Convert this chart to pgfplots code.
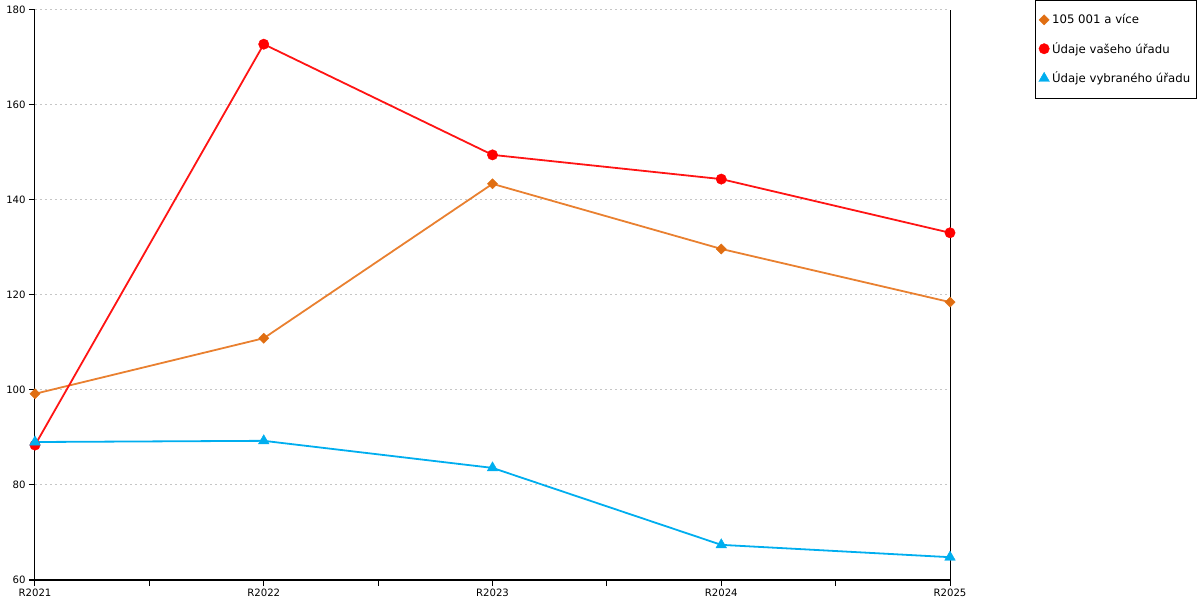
\documentclass[border=0pt]{standalone}
\usepackage{pgfplots}
\pgfplotsset{compat=1.18}
\usepackage{fontspec}
\setmainfont{DejaVu Sans}
\definecolor{orangeL}{RGB}{233,128,48}
\definecolor{orangeM}{RGB}{224,110,18}
\definecolor{redL}{RGB}{255,20,20}
\definecolor{blueL}{RGB}{0,174,239}
\begin{document}
\begin{tikzpicture}[x=1pt,y=1pt]
\path[use as bounding box] (0,0) rectangle (900,450);
\begin{axis}[
  at={(26.25pt,15pt)}, anchor=south west,
  scale only axis, width=686.25pt, height=427.5pt,
  xmin=0, xmax=4, ymin=60, ymax=180,
  xtick={0,1,2,3,4},
  xticklabels={R2021,R2022,R2023,R2024,R2025},
  minor xtick={0.5,1.5,2.5,3.5},
  ytick={60,80,100,120,140,160,180},
  axis x line*=bottom, axis y line*=left,
  axis line style={line width=0.75pt, black, -},
  xtick pos=bottom, ytick pos=left,
  tick align=outside,
  major tick length=4.5pt, minor tick length=4.5pt,
  every tick/.style={black, line width=0.75pt},
  minor tick style={black, line width=0.75pt},
  ymajorgrids,
  major grid style={gray!45, line width=0.75pt, dash pattern=on 1.5pt off 2.25pt},
  tick label style={font=\fontsize{7.6}{9}\selectfont},
  /pgf/number format/assume math mode=true,
  xticklabel style={yshift=1pt},
  yticklabel style={xshift=1pt},
  clip=false,
  legend style={
    at={(1.0929,1.0175)}, anchor=north west,
    draw=black, line width=0.75pt,
    font=\fontsize{8.8}{10}\selectfont,
    row sep=8.6pt,
    inner xsep=2.5pt, inner ysep=8.2pt,
    every odd column/.append style={inner xsep=2.8pt},
    every even column/.append style={text width=105pt},
    cells={align=left},
  },
  legend cell align=left,
  legend image code/.code={\draw[#1,only marks] plot coordinates {(0pt,0pt)};},
]
\draw[black, line width=0.75pt] (rel axis cs:1,0) -- (rel axis cs:1,1);
\addplot[orangeL, line width=1.35pt, mark=square*, mark size=2.7pt, mark options={rotate=45, fill=orangeM, draw=orangeM, line width=0.3pt}]
  coordinates {(0,99.2) (1,110.9) (2,143.4) (3,129.7) (4,118.5)};
\addlegendentry{105 001 a více}
\addplot[redL, line width=1.35pt, mark=*, mark size=3.9pt, mark options={fill=red, draw=red, line width=0.3pt}]
  coordinates {(0,88.4) (1,172.8) (2,149.5) (3,144.4) (4,133.1)};
\addlegendentry{Údaje vašeho úřadu}
\addplot[blueL, line width=1.35pt, mark=triangle*, mark size=4.6pt, mark options={fill=blueL, draw=blueL, line width=0.3pt}]
  coordinates {(0,89.05) (1,89.3) (2,83.6) (3,67.4) (4,64.8)};
\addlegendentry{Údaje vybraného úřadu}
\end{axis}
\end{tikzpicture}
\end{document}
